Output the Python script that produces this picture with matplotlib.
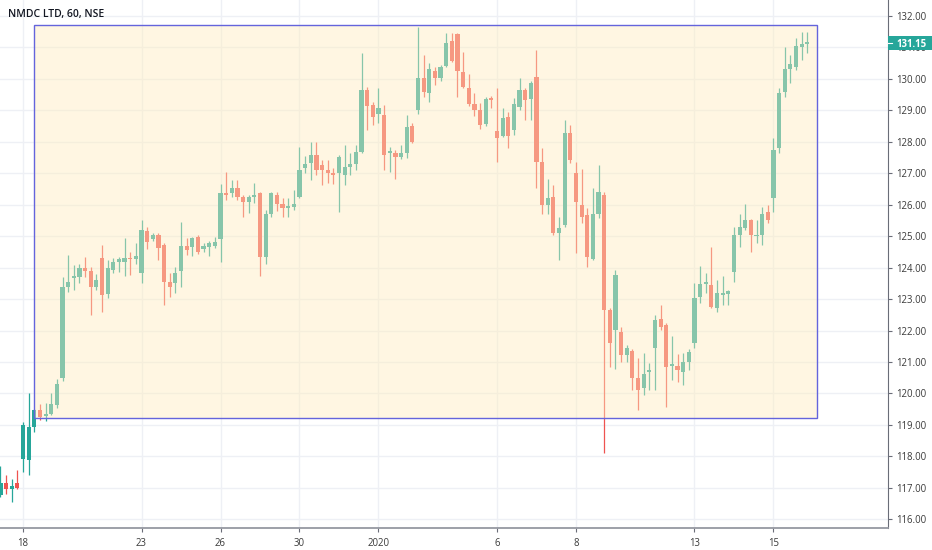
import matplotlib

matplotlib.use("Agg")
import matplotlib.pyplot as plt  # noqa: E402
import numpy as np  # noqa: E402
from matplotlib.patches import Rectangle  # noqa: E402
from matplotlib.transforms import blended_transform_factory  # noqa: E402

# NMDC LTD, hourly bars (NSE), first bar is 4 bars before 18 Dec 09:15
first_bar = -4
opens = [
    116.77, 117.14, 116.95, 117.14, 117.93, 117.88, 118.94, 119.47, 119.29, 119.34,
    119.63, 120.48, 123.39, 123.66, 123.71, 123.98, 123.90, 123.39, 124.31, 123.16,
    123.94, 124.19, 124.19, 124.31, 124.26, 123.82, 125.17, 124.90, 125.03, 124.72,
    123.55, 123.50, 123.90, 124.70, 124.66, 124.98, 124.58, 124.64, 124.68, 124.91,
    126.38, 126.36, 126.52, 126.25, 126.09, 126.25, 126.38, 124.34, 125.72, 126.31,
    126.02, 125.88, 125.92, 126.25, 127.16, 127.32, 127.58, 127.26, 127.10, 127.00,
    127.02, 126.94, 127.21, 127.31, 127.69, 129.65, 129.17, 128.88, 128.85, 127.63,
    127.65, 127.51, 127.65, 128.50, 129.01, 130.02, 129.56, 130.26, 130.02, 130.42,
    131.21, 131.42, 130.23, 129.70, 129.20, 129.01, 128.56, 129.40, 128.35, 128.18,
    128.80, 128.37, 129.12, 129.65, 129.35, 130.07, 127.37, 125.99, 126.25, 125.09,
    125.35, 128.27, 127.00, 125.99, 125.67, 124.27, 125.70, 126.31, 122.65, 122.01,
    121.96, 121.22, 121.35, 120.48, 120.16, 120.69, 121.43, 122.38, 122.17, 120.88,
    120.88, 120.69, 121.00, 121.59, 123.05, 123.48, 123.44, 122.73, 123.13, 123.16,
    123.87, 125.03, 125.25, 125.51, 125.00, 125.03, 125.78, 126.20, 127.79, 129.59,
    130.31, 130.39, 131.00, 131.12,
]
highs = [
    117.69, 117.39, 117.28, 117.56, 119.10, 120.00, 119.50, 119.65, 119.68, 120.00,
    120.45, 123.71, 124.40, 124.08, 124.13, 124.34, 124.03, 123.80, 124.72, 124.24,
    124.29, 124.34, 124.93, 124.50, 124.79, 125.51, 125.30, 125.10, 125.09, 124.77,
    123.82, 124.03, 125.46, 124.93, 124.97, 125.03, 124.77, 124.84, 124.96, 126.65,
    127.05, 126.80, 126.80, 126.31, 126.31, 126.68, 126.41, 125.83, 126.41, 126.41,
    126.21, 126.21, 126.48, 127.84, 127.55, 128.00, 128.00, 127.42, 127.42, 127.16,
    127.58, 127.90, 127.63, 127.90, 130.81, 129.75, 129.27, 129.70, 129.17, 127.84,
    127.75, 127.90, 128.85, 128.59, 131.66, 130.76, 130.52, 130.39, 130.45, 131.45,
    131.45, 131.45, 130.86, 130.17, 129.56, 129.23, 129.44, 129.45, 129.70, 129.06,
    128.96, 129.38, 130.02, 129.70, 129.92, 130.92, 127.79, 126.83, 126.62, 125.60,
    128.69, 128.53, 127.37, 127.15, 125.88, 126.52, 127.26, 126.40, 122.70, 123.92,
    122.12, 121.54, 121.40, 121.11, 121.27, 120.98, 122.49, 122.81, 122.23, 121.82,
    121.24, 121.27, 121.40, 123.50, 124.05, 123.82, 124.66, 123.60, 123.73, 123.30,
    125.30, 125.72, 126.02, 125.56, 125.51, 125.94, 125.99, 128.11, 129.70, 131.00,
    130.76, 131.29, 131.48, 131.48,
]
lows = [
    116.70, 116.80, 116.54, 116.95, 117.50, 117.39, 118.78, 119.15, 119.12, 119.30,
    119.55, 120.40, 123.23, 123.29, 123.50, 123.71, 122.49, 123.30, 122.60, 123.02,
    123.82, 123.87, 123.73, 123.76, 124.13, 123.50, 124.60, 124.85, 124.24, 122.81,
    123.07, 123.20, 123.39, 124.40, 124.36, 124.43, 124.50, 124.36, 124.61, 124.19,
    126.15, 126.24, 126.15, 125.60, 125.73, 126.05, 123.73, 124.13, 125.62, 125.80,
    125.62, 125.60, 125.83, 126.20, 127.00, 126.78, 126.95, 126.62, 126.70, 126.67,
    125.78, 126.62, 126.94, 127.10, 127.65, 128.37, 128.55, 128.59, 127.10, 127.05,
    126.83, 127.45, 127.47, 127.95, 128.90, 129.43, 129.26, 129.81, 129.92, 130.39,
    130.55, 129.43, 129.70, 129.15, 128.83, 128.40, 128.50, 129.06, 127.35, 128.14,
    127.79, 128.22, 129.01, 128.69, 128.69, 126.52, 125.72, 125.72, 125.04, 124.24,
    125.30, 127.32, 124.45, 125.41, 124.03, 124.24, 125.57, 118.09, 120.85, 120.79,
    121.00, 121.01, 120.10, 119.47, 119.95, 120.10, 120.10, 122.01, 119.58, 120.42,
    120.37, 120.26, 120.74, 121.43, 122.86, 123.18, 122.70, 122.60, 122.81, 122.81,
    123.55, 124.66, 125.19, 124.50, 124.77, 124.71, 125.43, 125.78, 127.63, 129.43,
    129.86, 130.28, 130.60, 130.84,
]
closes = [
    117.14, 116.95, 117.05, 116.98, 119.01, 118.94, 119.47, 119.26, 119.36, 119.66,
    120.29, 123.39, 123.55, 123.73, 123.98, 123.90, 123.39, 123.60, 123.13, 123.98,
    124.19, 124.26, 124.29, 124.26, 124.36, 125.19, 124.82, 125.03, 124.61, 123.55,
    123.39, 123.82, 124.70, 124.56, 124.93, 124.50, 124.69, 124.77, 124.81, 126.36,
    126.31, 126.52, 126.25, 126.09, 126.25, 126.30, 124.34, 125.72, 126.38, 126.02,
    125.88, 125.95, 126.01, 127.12, 127.31, 127.58, 127.10, 127.10, 127.00, 126.96,
    127.51, 127.21, 127.31, 127.69, 129.65, 129.14, 128.80, 129.06, 127.58, 127.71,
    127.51, 127.63, 128.48, 128.00, 130.02, 129.59, 130.30, 130.02, 130.37, 131.15,
    130.58, 130.26, 129.73, 129.20, 129.01, 128.53, 129.36, 129.33, 128.11, 128.75,
    128.18, 129.20, 129.65, 129.33, 129.86, 127.37, 125.99, 126.20, 125.09, 125.25,
    128.27, 127.42, 126.09, 125.62, 124.34, 125.72, 126.41, 122.65, 121.59, 123.76,
    121.22, 121.43, 120.48, 120.10, 120.63, 120.72, 122.35, 122.12, 120.85, 120.93,
    120.74, 121.00, 121.33, 123.02, 123.48, 123.53, 122.75, 123.18, 123.18, 123.26,
    125.03, 125.30, 125.51, 125.03, 125.03, 125.72, 125.51, 127.74, 129.56, 130.31,
    130.46, 131.06, 131.11, 131.15,
]

# session labels on the time axis and their trading-day number from 18 Dec
day_labels = ["18", "23", "26", "30", "2020", "6", "8", "13", "15"]
day_number = [0, 3, 5, 7, 9, 12, 14, 17, 19]
bars_per_day = 7

# rectangle drawn on the chart: bar range and price range
box_bars = (1.95, 140.7)
box_prices = (119.21, 131.71)

UP, DOWN = "#26a69a", "#ef5350"

o, h, l, c = map(np.array, (opens, highs, lows, closes))
x = np.arange(len(o)) + first_bar
colors = np.where(c >= o, UP, DOWN)

fig = plt.figure(figsize=(9.32, 5.5), dpi=100)
ax = fig.add_axes([0, 22 / 550, 888 / 932, 528 / 550])
ax.set_xlim(-4.08, 153.3)
ax.set_ylim(115.72, 132.51)

# grid
ax.set_yticks(np.arange(116, 133))
ax.set_yticklabels([f"{v:.2f}" for v in np.arange(116, 133)])
ax.set_xticks(np.array(day_number) * bars_per_day)
ax.set_xticklabels(day_labels)
ax.grid(color="#eef0f5", lw=1)
ax.set_axisbelow(True)

# candles
ax.vlines(x, l, h, colors=colors, lw=0.9, zorder=2)
body = np.maximum(np.abs(c - o), 0.04)
ax.bar(x, body, bottom=np.minimum(o, c), width=0.74, color=colors, lw=0, zorder=2)

# highlighted range box
bx0, bx1 = box_bars
by0, by1 = box_prices
ax.add_patch(Rectangle((bx0, by0), bx1 - bx0, by1 - by0,
                       fc=(1.0, 0.93, 0.75, 0.45), ec="none", zorder=3))
ax.add_patch(Rectangle((bx0, by0), bx1 - bx0, by1 - by0,
                       fc="none", ec="#6464dc", lw=1.0, zorder=4))

# axes styling
ax.yaxis.tick_right()
for side in ("top", "left"):
    ax.spines[side].set_visible(False)
ax.spines["right"].set_color("#6a6d78")
ax.spines["bottom"].set_color("#9598a1")
ax.spines["bottom"].set_linewidth(1.3)
ax.tick_params(axis="both", length=3, color="#6a6d78", labelsize=6.9,
               labelcolor="#3a3a3a", pad=2.5)
ax.tick_params(axis="x", pad=4)
for t in ax.get_xticklabels() + ax.get_yticklabels():
    t.set_fontfamily("Open Sans")

# last price tag (partly covers the 131.00 label, as on the chart)
blend = blended_transform_factory(ax.transAxes, ax.transData)
last = closes[-1]
ax.add_patch(Rectangle((1.0, last - 0.22), 0.05, 0.44, transform=blend,
                       fc=UP, ec="none", clip_on=False, zorder=6))
ax.plot([1.0, 1.0 + 4 / 888], [last, last], transform=blend, color="white",
        lw=0.8, clip_on=False, zorder=7)
ax.text(1.0 + 8 / 888, last, f"{last:.2f}", transform=blend, ha="left",
        va="center_baseline", color="white", fontsize=6.9, fontweight="bold",
        family="Open Sans", zorder=7)

fig.text(8 / 932, 1 - 14 / 550, "NMDC LTD, 60, NSE", fontsize=7.5, fontweight="semibold",
         color="#131722", family="Open Sans", va="center")

fig.savefig("out.png", dpi=100)
